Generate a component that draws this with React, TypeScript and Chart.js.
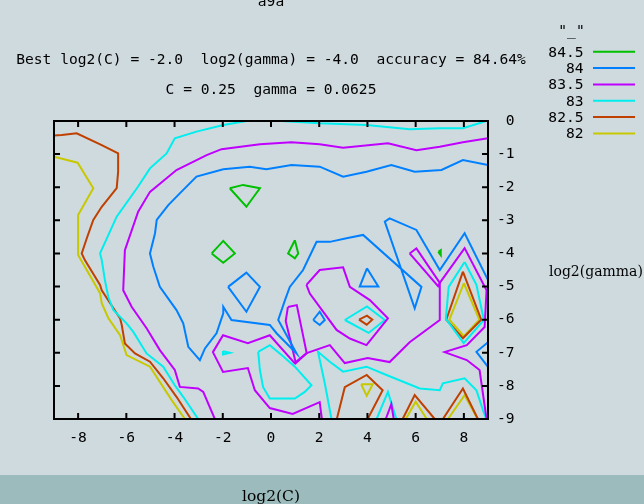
import React, { useEffect, useRef } from 'react';
import { Chart, registerables } from 'chart.js';

Chart.register(...registerables);

type Pt = [number, number];

// ---- text ----
const titleText = 'a9a';
const bestLine = 'Best log2(C) = -2.0  log2(gamma) = -4.0  accuracy = 84.64%';
const paramLine = 'C = 0.25  gamma = 0.0625';
const keyTitle = '"_"';
const xAxisTitle = 'log2(C)';
const yAxisTitle = 'log2(gamma)';

// ---- axes ----
const xTickValues = [-8, -6, -4, -2, 0, 2, 4, 6, 8];
const yTickValues = [0, -1, -2, -3, -4, -5, -6, -7, -8, -9];
const levelLabels = ['84.5', '84', '83.5', '83', '82.5', '82'];

// ---- contour lines (log2(C), log2(gamma)) ----
const contour84_5: Pt[][] = [
  [[-1.71, -2.03], [-1.16, -1.93], [-0.46, -2.03], [-1.02, -2.59], [-1.71, -2.03]],
  [[-2.46, -4.0], [-1.98, -3.62], [-1.5, -4.0], [-1.98, -4.28], [-2.46, -4.0]],
  [[0.99, -3.6], [0.71, -4.0], [0.99, -4.15], [1.13, -4.0], [0.99, -3.6]],
  [[6.94, -3.95], [7.04, -3.9], [7.04, -4.05], [6.94, -3.95]],
];

const contour84: Pt[][] = [
  [[9, -1.33], [7.96, -1.18], [7.07, -1.48], [5.96, -1.53], [4.99, -1.33], [3.96, -1.53], [2.99, -1.68],
   [2.02, -1.38], [0.85, -1.33], [-0.19, -1.46], [-0.88, -1.38], [-1.98, -1.46], [-3.09, -1.68],
   [-3.64, -2.08], [-4.26, -2.54], [-4.74, -2.99], [-4.81, -3.39], [-5.02, -4.0], [-4.88, -4.4],
   [-4.61, -5.01], [-3.92, -5.71], [-3.64, -6.11], [-3.43, -6.82], [-2.95, -7.22], [-2.74, -6.87],
   [-2.26, -6.41], [-1.98, -5.81], [-1.98, -5.61], [-1.64, -6.01], [-0.05, -6.16], [0.23, -6.41],
   [1.06, -7.02], [0.3, -6.01], [0.58, -5.41], [0.78, -5.01], [1.33, -4.5], [1.89, -3.65], [2.44, -3.65],
   [3.13, -3.54], [3.82, -3.44], [6.24, -5.01], [5.96, -5.66], [4.72, -3.04], [4.92, -2.94],
   [6.03, -3.29], [7.0, -4.5], [8.03, -3.39], [8.93, -4.7], [9, -4.8]],
  [[9, -6.68], [8.52, -6.97], [9, -7.43]],
  [[-1.78, -5.01], [-1.02, -4.58], [-0.46, -5.01], [-1.02, -5.76], [-1.78, -5.01]],
  [[1.75, -6.01], [2.02, -5.76], [2.23, -6.01], [2.02, -6.16], [1.75, -6.01]],
  [[3.98, -4.45], [3.68, -5.0], [4.45, -5.0], [3.98, -4.45]],
];

const contour83_5: Pt[][] = [
  [[9, -0.52], [7.96, -0.64], [7.0, -0.78], [6.03, -0.88], [4.85, -0.67], [2.99, -0.81], [2.02, -0.7],
   [0.85, -0.64], [-0.46, -0.7], [-2.05, -0.85], [-2.67, -1.03], [-3.92, -1.48], [-5.02, -2.14],
   [-5.51, -2.74], [-6.06, -3.9], [-6.13, -5.11], [-5.78, -5.61], [-5.16, -6.26], [-4.61, -6.92],
   [-3.99, -7.52], [-3.78, -8.03], [-3.02, -8.08], [-2.81, -8.18], [-2.33, -9]],
  [[2.11, -9], [2.02, -8.49], [0.9, -8.85], [-0.05, -8.67], [-0.67, -8.13], [-0.96, -7.46], [-1.99, -7.58],
   [-2.41, -6.98], [-1.99, -6.47], [-0.96, -6.71], [-0.05, -6.47], [0.98, -7.31], [1.48, -7.01],
   [2.44, -6.77], [3.06, -7.31], [4.01, -7.16], [4.92, -7.28], [5.75, -6.68], [7.0, -6.01], [7.0, -4.89],
   [8.03, -3.84], [8.94, -5.11], [8.86, -6.22], [8.12, -6.77], [7.2, -6.98], [8.12, -7.22], [8.65, -7.52],
   [8.94, -9]],
  [[0.7, -5.62], [1.07, -5.56], [1.48, -7.01], [1.03, -7.31], [0.61, -6.04], [0.7, -5.62]],
  [[1.47, -4.95], [2.02, -4.5], [2.99, -4.42], [3.27, -5.01], [4.1, -5.41], [4.85, -5.96], [3.96, -6.77],
   [3.27, -6.57], [2.72, -6.31], [1.61, -5.21], [1.47, -4.95]],
  [[5.75, -4.0], [6.03, -3.85], [7.0, -4.89], [6.93, -4.99], [5.75, -4.0]],
  [[4.76, -9], [4.99, -8.55], [5.09, -9]],
];

const contour83: Pt[][] = [
  [[8.93, 0], [7.96, -0.22], [7.0, -0.22], [5.75, -0.25], [3.96, -0.12], [2.02, -0.07], [0.43, 0],
   [-1.01, 0], [-1.98, -0.12], [-3.09, -0.32], [-3.99, -0.52], [-4.33, -0.98], [-5.02, -1.43],
   [-5.51, -1.98], [-6.4, -2.89], [-7.09, -4.0], [-7.02, -4.2], [-6.89, -4.8], [-6.75, -5.31],
   [-6.54, -5.71], [-5.99, -6.11], [-5.71, -6.37], [-5.16, -7.02], [-4.47, -7.42], [-3.99, -7.98],
   [-3.64, -8.33], [-3.02, -9]],
  [[-1.99, -6.95], [-1.7, -7.0], [-1.99, -7.05], [-1.99, -6.95]],
  [[-0.53, -6.97], [-0.05, -6.77], [0.44, -7.07], [0.99, -7.42], [1.68, -7.98], [1.4, -8.18], [0.99, -8.38],
   [-0.05, -8.38], [-0.33, -8.03], [-0.46, -7.52], [-0.53, -6.97]],
  [[2.51, -9], [2.23, -7.92], [1.95, -6.97], [2.44, -7.27], [2.99, -7.57], [3.96, -7.42], [4.79, -7.67],
   [6.17, -8.08], [7.0, -8.13], [7.13, -7.92], [8.03, -7.77], [8.52, -8.13], [8.79, -8.73], [8.93, -9]],
  [[4.38, -9], [4.85, -8.18], [5.2, -9]],
  [[3.06, -6.01], [3.98, -5.6], [4.72, -6.01], [4.05, -6.4], [3.06, -6.01]],
  [[8.03, -4.26], [7.37, -5.01], [7.25, -5.97], [7.99, -6.71], [8.83, -6.01], [8.52, -4.95], [8.03, -4.26]],
];

const contour82_5: Pt[][] = [
  [[-9, -0.44], [-8.68, -0.42], [-8.06, -0.37], [-7.02, -0.73], [-6.34, -0.98], [-6.34, -1.53],
   [-6.4, -2.03], [-7.02, -2.59], [-7.37, -2.99], [-7.64, -3.54], [-7.85, -4.0], [-7.72, -4.2],
   [-7.09, -4.95], [-7.02, -5.11], [-6.26, -5.96], [-6.19, -6.16], [-6.06, -6.72], [-5.64, -7.02],
   [-5.02, -7.27], [-4.47, -7.77], [-3.92, -8.33], [-3.32, -9]],
  [[3.65, -6.0], [3.98, -5.88], [4.2, -6.0], [3.97, -6.15], [3.65, -6.0]],
  [[2.73, -9], [3.06, -8.04], [3.97, -7.67], [4.63, -8.13], [4.01, -9]],
  [[5.46, -9], [5.96, -8.28], [6.79, -9]],
  [[7.13, -9], [7.96, -8.08], [8.58, -9]],
  [[7.96, -4.55], [7.27, -6.0], [7.96, -6.56], [8.72, -6.0], [7.96, -4.55]],
];

const contour82: Pt[][] = [
  [[-9, -1.08], [-8.02, -1.26], [-7.37, -2.03], [-8.0, -2.84], [-8.0, -4.05], [-7.09, -5.2], [-7.02, -5.5],
   [-6.75, -5.95], [-6.26, -6.47], [-5.99, -7.07], [-5.02, -7.42], [-4.61, -7.88], [-4.12, -8.43],
   [-3.57, -9]],
  [[3.74, -7.95], [4.22, -7.95], [3.97, -8.3], [3.74, -7.95]],
  [[5.59, -9], [6.0, -8.48], [6.46, -9]],
  [[7.34, -9], [8.03, -8.28], [8.57, -9]],
  [[8.0, -4.9], [7.4, -6.0], [8.0, -6.5], [8.64, -6.0], [8.0, -4.9]],
];

const contoursByLevel: Pt[][][] = [contour84_5, contour84, contour83_5, contour83, contour82_5, contour82];

// ---- style ----
const levelColors = ['#00c000', '#0080ff', '#c000ff', '#00eeee', '#c04000', '#c8c800'];
const MONO = "'DejaVu Sans Mono', monospace";
const SERIF = "'DejaVu Serif', serif";
const BG = '#cfdadf';
const BAND = '#9cbbbc';

const gnuplotDecor = {
  id: 'gnuplotDecor',
  beforeDraw(chart: any) {
    const { ctx, width, height } = chart;
    ctx.save();
    ctx.fillStyle = BG;
    ctx.fillRect(0, 0, width, height);
    ctx.fillStyle = BAND;
    ctx.fillRect(0, 475, width, height - 475);
    ctx.restore();
  },
  afterDraw(chart: any) {
    const { ctx, chartArea } = chart;
    const xs = chart.scales.x;
    const ys = chart.scales.y;
    const { left, right, top, bottom } = chartArea;
    ctx.save();
    ctx.strokeStyle = '#000';
    ctx.lineWidth = 2;
    ctx.beginPath();
    const tl = 6;
    for (const v of xTickValues) {
      const px = xs.getPixelForValue(v);
      ctx.moveTo(px, bottom);
      ctx.lineTo(px, bottom - tl);
      ctx.moveTo(px, top);
      ctx.lineTo(px, top + tl);
    }
    for (const v of yTickValues) {
      const py = ys.getPixelForValue(v);
      ctx.moveTo(left, py);
      ctx.lineTo(left + tl, py);
      ctx.moveTo(right, py);
      ctx.lineTo(right - tl, py);
    }
    ctx.stroke();
    ctx.strokeRect(left, top, right - left, bottom - top);

    // titles
    const cx = (left + right) / 2;
    ctx.fillStyle = '#000';
    ctx.font = `14.6px ${MONO}`;
    ctx.textAlign = 'center';
    ctx.textBaseline = 'alphabetic';
    ctx.fillText(titleText, cx, 6);
    ctx.fillText(bestLine, cx, 64);
    ctx.fillText(paramLine, cx, 94);

    // key
    ctx.fillText(keyTitle, 571.5, 35);
    ctx.textAlign = 'right';
    levelLabels.forEach((lab, i) => {
      const yLine = 51.7 + i * 16.35;
      ctx.fillStyle = '#000';
      ctx.fillText(lab, 583.5, yLine + 5);
      ctx.strokeStyle = levelColors[i];
      ctx.lineWidth = 2;
      ctx.beginPath();
      ctx.moveTo(593, yLine);
      ctx.lineTo(635, yLine);
      ctx.stroke();
    });

    // axis titles
    ctx.fillStyle = '#000';
    ctx.font = `14px ${SERIF}`;
    ctx.textAlign = 'left';
    ctx.textBaseline = 'middle';
    ctx.fillText(yAxisTitle, 549, 272);
    ctx.textAlign = 'center';
    ctx.font = `15.5px ${SERIF}`;
    ctx.fillText(xAxisTitle, cx, 497);
    ctx.restore();
  },
};

export default function App() {
  const ref = useRef<HTMLCanvasElement | null>(null);
  useEffect(() => {
    document.body.style.margin = '0';
    const canvas = ref.current;
    if (!canvas) return;
    const datasets: any[] = [];
    contoursByLevel.forEach((pieces, li) => {
      pieces.forEach((piece) => {
        datasets.push({
          label: levelLabels[li],
          data: piece.map(([x, y]) => ({ x, y })),
          showLine: true,
          borderColor: levelColors[li],
          backgroundColor: levelColors[li],
          borderWidth: 2,
          pointRadius: 0,
          pointHoverRadius: 0,
          fill: false,
          tension: 0,
        });
      });
    });
    const tickFont = { family: MONO, size: 14.6 };
    const chart = new Chart(canvas, {
      type: 'scatter',
      data: { datasets },
      options: {
        animation: false,
        responsive: false,
        devicePixelRatio: 1,
        layout: { padding: { left: 54, top: 121, right: 0, bottom: 0 } },
        plugins: { legend: { display: false }, tooltip: { enabled: false }, title: { display: false } },
        scales: {
          x: {
            type: 'linear',
            position: 'bottom',
            min: -9,
            max: 9,
            grid: { display: false, drawTicks: false },
            border: { display: false },
            ticks: { font: tickFont, color: '#000', padding: 10, maxRotation: 0, autoSkip: false },
            afterBuildTicks: (s: any) => { s.ticks = xTickValues.map((v) => ({ value: v })); },
            afterFit: (s: any) => { s.height = 85; },
          },
          y: {
            type: 'linear',
            position: 'right',
            min: -9,
            max: 0,
            grid: { display: false, drawTicks: false },
            border: { display: false },
            ticks: {
              font: tickFont,
              color: '#000',
              padding: 9,
              autoSkip: false,
              callback: (v: any) => String(v).padStart(2, ' '),
            },
            afterBuildTicks: (s: any) => { s.ticks = yTickValues.map((v) => ({ value: v })); },
            afterFit: (s: any) => { s.width = 156; },
          },
        },
      },
      plugins: [gnuplotDecor],
    });
    return () => chart.destroy();
  }, []);
  return (
    <div style={{ width: 644, height: 504, background: BG }}>
      <canvas ref={ref} width={644} height={504} style={{ display: 'block', width: 644, height: 504 }} />
    </div>
  );
}
